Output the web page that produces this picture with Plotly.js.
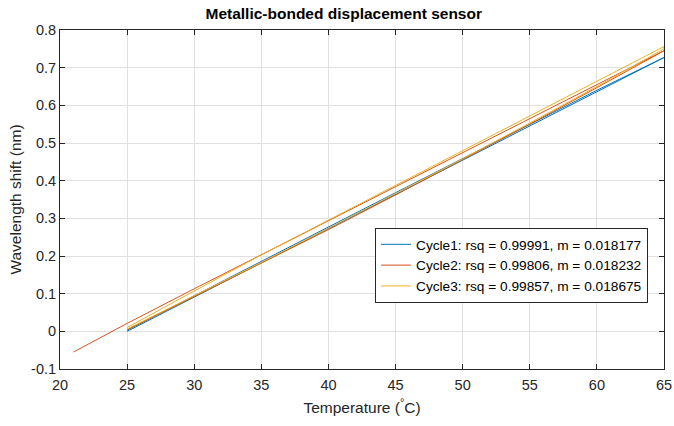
<!DOCTYPE html>
<html>
<head>
<meta charset="utf-8">
<script src="https://cdn.plot.ly/plotly-3.0.1.min.js"></script>
<style>html,body{margin:0;padding:0;background:#fff;}#chart{width:674px;height:426px;}</style>
</head>
<body>
<div id="chart"></div>
<script>
// Temperatures (°C)
const tempHeat = [25, 30, 35, 40, 45, 50, 55, 60, 65];
const tempCool = [65, 60, 55, 50, 45, 40, 35, 30, 25];
const tempCool2 = [65, 60, 55, 50, 45, 40, 35, 30, 25, 21];

// Wavelength shift (nm)
const cycle1Heat = [0.000, 0.091, 0.182, 0.274, 0.365, 0.456, 0.546, 0.637, 0.727];
const cycle1Cool = [0.727, 0.640, 0.550, 0.459, 0.368, 0.277, 0.186, 0.094, 0.003];
const cycle2Heat = [0.004, 0.092, 0.180, 0.270, 0.362, 0.455, 0.550, 0.647, 0.745];
const cycle2Cool = [0.745, 0.655, 0.565, 0.475, 0.385, 0.295, 0.204, 0.113, 0.021, -0.055];
const cycle3Heat = [0.006, 0.094, 0.183, 0.274, 0.366, 0.458, 0.553, 0.650, 0.750];
const cycle3Cool = [0.756, 0.664, 0.572, 0.480, 0.388, 0.296, 0.203, 0.107, 0.010];

const legendNames = [
  'Cycle1: rsq = 0.99991, m = 0.018177',
  'Cycle2: rsq = 0.99806, m = 0.018232',
  'Cycle3: rsq = 0.99857, m = 0.018675'
];
const colors = ['#0072BD', '#D95319', '#EDB120'];

const traces = [
  {x: tempHeat.concat(tempCool), y: cycle1Heat.concat(cycle1Cool)},
  {x: tempHeat.concat(tempCool2), y: cycle2Heat.concat(cycle2Cool)},
  {x: tempHeat.concat(tempCool), y: cycle3Heat.concat(cycle3Cool)}
].map((d, i) => ({
  x: d.x, y: d.y, type: 'scatter', mode: 'lines', name: legendNames[i],
  line: {color: colors[i], width: 1}
}));

const axisCommon = {
  showline: true, linecolor: '#262626', linewidth: 1, mirror: 'ticks',
  ticks: 'inside', ticklen: 5, tickcolor: '#262626', tickwidth: 1,
  showgrid: true, gridcolor: '#e0e0e0', gridwidth: 1, zeroline: false,
  tickfont: {family: 'Liberation Sans, Arial, sans-serif', size: 14.5, color: '#262626'}
};

const layout = {
  width: 674, height: 426,
  margin: {l: 60, r: 10, t: 30, b: 57},
  paper_bgcolor: '#ffffff', plot_bgcolor: '#ffffff',
  font: {family: 'Liberation Sans, Arial, sans-serif', color: '#262626'},
  title: {text: '<b>Metallic-bonded displacement sensor</b>', x: 0.51, xanchor: 'center', y: 0.982, yanchor: 'top',
          font: {size: 15.5, color: '#000000'}},
  xaxis: Object.assign({}, axisCommon, {
    range: [20, 65], tickvals: [20, 25, 30, 35, 40, 45, 50, 55, 60, 65],
    ticklabelstandoff: 3,
    title: {text: 'Temperature (<sup>°</sup>C)', font: {size: 15.5, color: '#262626'}, standoff: 9}
  }),
  yaxis: Object.assign({}, axisCommon, {
    range: [-0.1, 0.8], tickvals: [-0.1, 0, 0.1, 0.2, 0.3, 0.4, 0.5, 0.6, 0.7, 0.8],
    ticktext: ['-0.1', '0', '0.1', '0.2', '0.3', '0.4', '0.5', '0.6', '0.7', '0.8'],
    title: {text: 'Wavelength shift (nm)', font: {size: 15.5, color: '#262626'}, standoff: 5}
  }),
  showlegend: true,
  legend: {
    x: 0.9735, xanchor: 'right', y: 0.195, yanchor: 'bottom',
    bgcolor: '#ffffff', bordercolor: '#262626', borderwidth: 1,
    font: {size: 13.7, color: '#000000'}, itemwidth: 30, tracegroupgap: 0
  }
};

Plotly.newPlot('chart', traces, layout, {displayModeBar: false, staticPlot: true});
</script>
</body>
</html>
